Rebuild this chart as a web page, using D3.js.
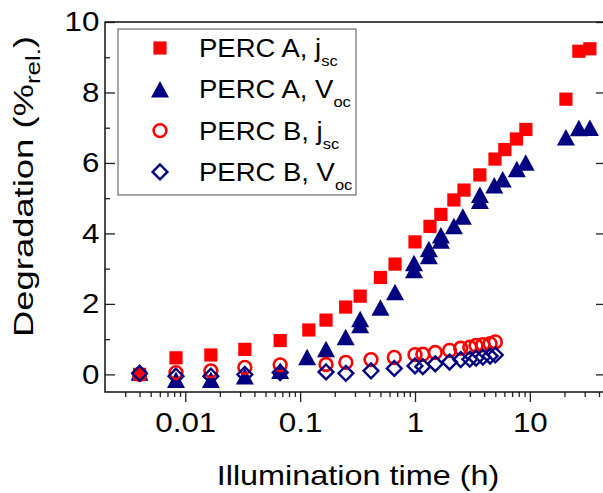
<!DOCTYPE html>
<html lang="en">
<head>
<meta charset="utf-8">
<title>Degradation vs illumination time</title>
<script src="https://d3js.org/d3.v7.min.js"></script>
<style>
  body { margin: 0; background: #fff; }
  svg text { font-family: "Liberation Sans", Arial, sans-serif; fill: #000; }
  .tick line { stroke: #222; stroke-width: 1.3; }
</style>
</head>
<body>
<svg id="chart" width="603" height="493"></svg>
<script>
// PERC A, jsc (filled squares)
var jscA_t = [0.004, 0.0083, 0.0167, 0.033, 0.067, 0.119, 0.168, 0.249, 0.333, 0.5, 0.67, 1.0,
              1.35, 1.68, 2.18, 2.67, 3.67, 4.97, 6.06, 7.64, 9.23, 20.6, 26.7, 33.3];
var jscA_v = [0.0, 0.47, 0.55, 0.71, 0.96, 1.26, 1.54, 1.91, 2.22, 2.75, 3.13, 3.76,
              4.2, 4.54, 4.95, 5.23, 5.66, 6.11, 6.38, 6.68, 6.95, 7.81, 9.17, 9.24];

// PERC A, Voc (filled triangles)
var vocA_t = [0.004, 0.0083, 0.0167, 0.033, 0.067, 0.115, 0.168, 0.249, 0.333, 0.333, 0.5, 0.67,
              0.98, 0.98, 1.32, 1.32, 1.68, 1.68, 2.18, 2.61, 3.67, 3.67, 4.9, 5.8, 7.7, 9.2,
              20.6, 26.7, 33.3];
var vocA_v = [0.05, -0.15, -0.15, -0.05, 0.1, 0.49, 0.72, 1.06, 1.4, 1.57, 1.9, 2.34,
              2.96, 3.16, 3.36, 3.56, 3.8, 3.95, 4.21, 4.48, 4.93, 5.1, 5.37, 5.54, 5.83, 6.01,
              6.73, 6.99, 7.0];

// PERC B (open circles = jsc, open diamonds = Voc)
var percB_t = [0.004, 0.0083, 0.0167, 0.033, 0.067, 0.168, 0.25, 0.414, 0.66, 1.0, 1.17, 1.5,
               2.0, 2.5, 3.0, 3.4, 3.9, 4.5, 5.0];
var jscB_v = [0.0, 0.05, 0.1, 0.2, 0.27, 0.28, 0.34, 0.42, 0.48, 0.56, 0.57, 0.62,
              0.68, 0.74, 0.77, 0.82, 0.84, 0.87, 0.92];
var vocB_v = [0.03, -0.05, -0.05, 0.0, 0.05, 0.07, 0.03, 0.1, 0.17, 0.24, 0.22, 0.3,
              0.35, 0.42, 0.43, 0.46, 0.49, 0.52, 0.55];

var xMajor = [0.01, 0.1, 1, 10];
var xLabels = ["0.01", "0.1", "1", "10"];
var yMajor = [0, 2, 4, 6, 8, 10];
var yMinor = [1, 3, 5, 7, 9];

var legendNames = [["PERC A, j", "sc"], ["PERC A, V", "oc"], ["PERC B, j", "sc"], ["PERC B, V", "oc"]];

var RED = "#ff0000", NAVY = "#000080";
var SX = 1.12; // horizontal stretch of the text in the original

var svg = d3.select("#chart");
var pL = 105, pR = 606, pT = 22, pB = 392;

var x = d3.scaleLog().domain([0.002, 46]).range([pL, pR]);
var y = d3.scaleLinear().domain([-0.5, 10]).range([pB, pT]);

// minor x ticks: 2..9 of each decade
var xMinor = [];
[0.001, 0.01, 0.1, 1, 10].forEach(function (d) {
  for (var k = 2; k <= 9; k++) {
    var v = d * k;
    if (v > 0.002 && v < 46) xMinor.push(v);
  }
});

// axes
svg.append("g")
  .attr("transform", "translate(0," + pB + ")")
  .call(d3.axisBottom(x).tickValues(xMinor).tickSize(5).tickFormat(""))
  .call(function (g) { g.select(".domain").remove(); });

svg.append("g")
  .attr("transform", "translate(0," + pB + ")")
  .call(d3.axisBottom(x).tickValues(xMajor).tickSize(10).tickPadding(10)
        .tickFormat(function (d, i) { return xLabels[i]; }))
  .call(function (g) {
    g.select(".domain").remove();
    g.selectAll("text").attr("font-size", 28).attr("transform", "scale(" + SX + ",1)");
  });

svg.append("g")
  .attr("transform", "translate(" + pL + ",0)")
  .call(d3.axisLeft(y).tickValues(yMinor).tickSize(-5).tickFormat(""))
  .call(function (g) { g.select(".domain").remove(); });

svg.append("g")
  .attr("transform", "translate(" + pL + ",0)")
  .call(d3.axisLeft(y).tickValues(yMajor).tickSize(-10).tickPadding(5))
  .call(function (g) {
    g.select(".domain").remove();
    g.selectAll("text").attr("font-size", 28).attr("transform", "scale(" + SX + ",1)");
  });

svg.append("g")
  .attr("transform", "translate(" + pR + ",0)")
  .call(d3.axisRight(y).tickValues(yMajor).tickSize(-10).tickFormat(""))
  .call(function (g) { g.select(".domain").remove(); });

// frame
svg.append("rect")
  .attr("x", pL).attr("y", pT)
  .attr("width", pR - pL).attr("height", pB - pT)
  .attr("fill", "none").attr("stroke", "#111").attr("stroke-width", 1.5);

// axis titles
svg.append("text")
  .attr("transform", "translate(358,485) scale(1.2,1)")
  .attr("text-anchor", "middle").attr("font-size", 27)
  .text("Illumination time (h)");

var yt = svg.append("text")
  .attr("transform", "translate(33,337) rotate(-90) scale(1.3,1)")
  .attr("text-anchor", "start").attr("font-size", 28);
yt.append("tspan").text("Degradation (%");
yt.append("tspan").attr("font-size", 20).attr("dy", 7).text("rel.");
yt.append("tspan").attr("dy", -7).text(")");

// marker shapes
function triPath(w, h) {
  return "M0," + (-h / 2) + "L" + (w / 2) + "," + (h / 2) + "L" + (-w / 2) + "," + (h / 2) + "Z";
}
function diaPath(r) {
  return "M0," + (-r) + "L" + r + ",0L0," + r + "L" + (-r) + ",0Z";
}
var markers = [
  function (g) { g.append("rect").attr("x", -6.6).attr("y", -6.6).attr("width", 13.2).attr("height", 13.2).attr("fill", RED); },
  function (g) { g.append("path").attr("d", triPath(18, 16.5)).attr("fill", NAVY); },
  function (g) { g.append("circle").attr("r", 6.4).attr("fill", "none").attr("stroke", RED).attr("stroke-width", 2.6); },
  function (g) { g.append("path").attr("d", diaPath(7.4)).attr("fill", "none").attr("stroke", NAVY).attr("stroke-width", 2.4); }
];

function plotSeries(ts, vs, m) {
  svg.append("g").selectAll("g")
    .data(ts.map(function (t, i) { return [t, vs[i]]; }))
    .enter().append("g")
    .attr("transform", function (d) { return "translate(" + x(d[0]) + "," + y(d[1]) + ")"; })
    .each(function () { markers[m](d3.select(this)); });
}

plotSeries(vocA_t, vocA_v, 1);
plotSeries(jscA_t, jscA_v, 0);
plotSeries(percB_t, jscB_v, 2);
plotSeries(percB_t, vocB_v, 3);

// legend
svg.append("rect")
  .attr("x", 118).attr("y", 29).attr("width", 238).attr("height", 166)
  .attr("fill", "#fff").attr("stroke", "#777").attr("stroke-width", 1.3);

legendNames.forEach(function (nm, i) {
  var cy = 48 + i * 41.3;
  var g = svg.append("g").attr("transform", "translate(160," + cy + ")");
  markers[i](g);
  var t = svg.append("text")
    .attr("transform", "translate(199," + (cy + 9) + ") scale(1.1,1)")
    .attr("font-size", 25);
  t.append("tspan").text(nm[0]);
  t.append("tspan").attr("font-size", 15).attr("dy", 9).text(nm[1]);
});
</script>
</body>
</html>
